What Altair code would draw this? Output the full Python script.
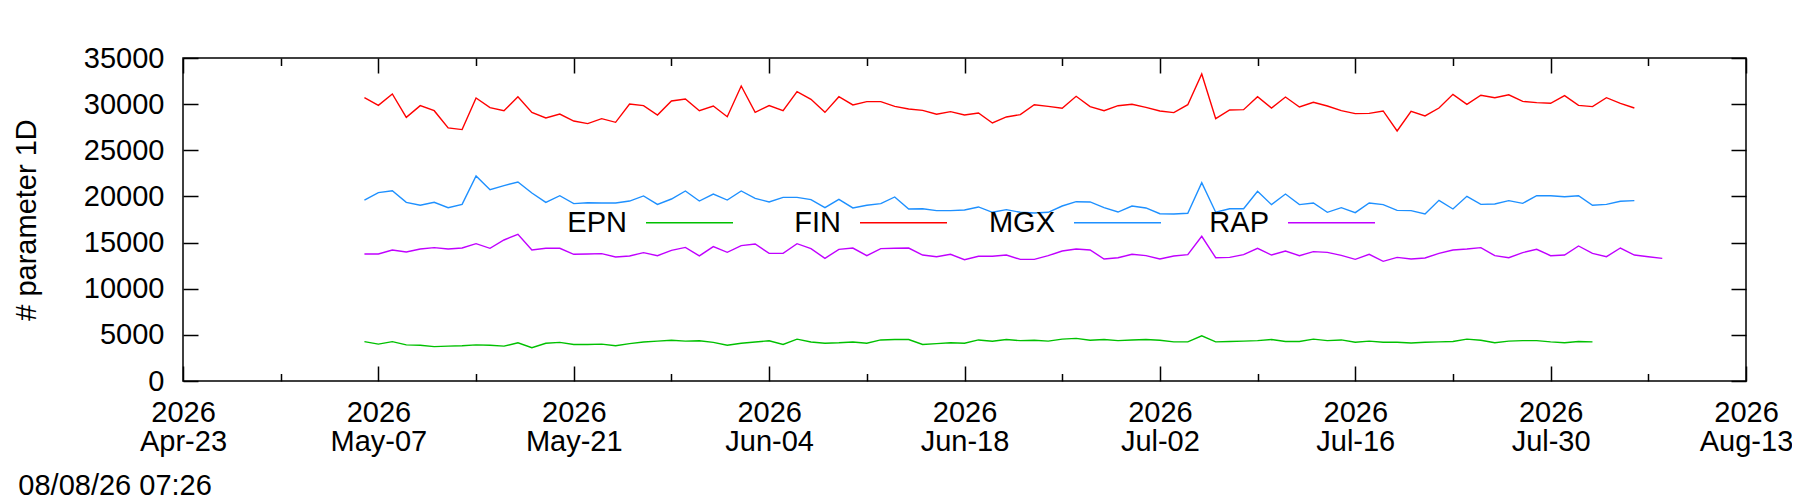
import altair as alt
import pandas as pd

# ---------------- data ----------------
start_date = "2026-05-06"
series_names = ["EPN", "FIN", "MGX", "RAP"]
series_colors = ["#00c000", "#ff0000", "#1e90ff", "#c000ff"]

epn = [4270, 4000, 4270, 3910, 3870, 3730, 3780, 3820, 3910, 3870, 3780, 4140, 3600, 4090,
       4180, 3960, 3960, 4000, 3820, 4050, 4230, 4320, 4410, 4320, 4360, 4180, 3870, 4090,
       4230, 4360, 3960, 4540, 4230, 4090, 4140, 4230, 4090, 4450, 4500, 4500, 3960, 4050,
       4140, 4090, 4450, 4300, 4490, 4370, 4410, 4320, 4540, 4620, 4410, 4490, 4370, 4450,
       4490, 4410, 4240, 4240, 4900, 4240, 4280, 4320, 4370, 4490, 4280, 4280, 4540, 4370,
       4450, 4200, 4320, 4200, 4200, 4110, 4200, 4240, 4280, 4540, 4410, 4150, 4320, 4370,
       4370, 4240, 4150, 4280, 4240]

fin = [30700, 29870, 31100, 28570, 29840, 29290, 27420, 27240, 30670, 29620, 29290, 30810,
       29110, 28500, 28930, 28170, 27890, 28430, 28030, 30020, 29840, 28820, 30340, 30560,
       29290, 29800, 28640, 31970, 29110, 29840, 29290, 31350, 30520, 29110, 30810, 29910,
       30270, 30270, 29760, 29470, 29330, 28900, 29190, 28820, 29040, 27960, 28610, 28860,
       29940, 29760, 29550, 30850, 29730, 29290, 29830, 29980, 29650, 29260, 29080, 29940,
       33270, 28430, 29370, 29400, 30810, 29580, 30770, 29690, 30200, 29800, 29290, 28970,
       29000, 29260, 27090, 29220, 28720, 29580, 31060, 29980, 30960, 30700, 31010, 30300,
       30160, 30090, 30920, 29870, 29730, 30700, 30090, 29580]

mgx = [19610, 20410, 20620, 19360, 19040, 19360, 18780, 19140, 22210, 20730, 21170, 21560,
       20370, 19360, 20080, 19220, 19320, 19290, 19290, 19500, 20050, 19140, 19720, 20590,
       19500, 20260, 19610, 20590, 19790, 19400, 19900, 19900, 19650, 18780, 19690, 18750,
       19040, 19220, 19940, 18640, 18670, 18460, 18460, 18530, 18860, 18280, 18570, 18280,
       18200, 18280, 18960, 19430, 19400, 18780, 18310, 18960, 18750, 18130, 18100, 18170,
       21490, 18280, 18670, 18670, 20550, 19110, 20260, 19110, 19290, 18280, 18780, 18240,
       19290, 19110, 18490, 18460, 18100, 19580, 18640, 20010, 19140, 19180, 19540, 19250,
       20080, 20080, 19970, 20080, 19040, 19140, 19470, 19540]

rap = [13760, 13760, 14200, 13980, 14300, 14450, 14300, 14410, 14880, 14380, 15280, 15890,
       14200, 14380, 14380, 13730, 13760, 13800, 13440, 13550, 13910, 13580, 14160, 14480,
       13550, 14560, 13940, 14670, 14850, 13830, 13830, 14880, 14340, 13290, 14270, 14410,
       13580, 14340, 14380, 14410, 13650, 13470, 13730, 13150, 13510, 13510, 13650, 13180,
       13180, 13580, 14090, 14300, 14200, 13220, 13360, 13730, 13580, 13220, 13550, 13690,
       15680, 13360, 13400, 13690, 14380, 13650, 14090, 13580, 14020, 13940, 13620, 13180,
       13730, 12970, 13400, 13220, 13330, 13830, 14200, 14300, 14450, 13580, 13360, 13910,
       14270, 13580, 13650, 14630, 13830, 13470, 14410, 13650, 13470, 13290]

x_domain = ["2026-04-23", "2026-08-13"]
x_major = ["2026-04-23", "2026-05-07", "2026-05-21", "2026-06-04", "2026-06-18",
           "2026-07-02", "2026-07-16", "2026-07-30", "2026-08-13"]
x_minor = ["2026-04-30", "2026-05-14", "2026-05-28", "2026-06-11", "2026-06-25",
           "2026-07-09", "2026-07-23", "2026-08-06"]
y_ticks = [0, 5000, 10000, 15000, 20000, 25000, 30000, 35000]
y_title = "# parameter 1D"
stamp = "08/08/26 07:26"

# ---------------- table ----------------
frames = []
for name, vals in zip(series_names, [epn, fin, mgx, rap]):
    d = pd.date_range(start_date, periods=len(vals), freq="D")
    frames.append(pd.DataFrame({"date": d.strftime("%Y-%m-%d"), "value": vals, "series": name}))
df = pd.concat(frames, ignore_index=True)


def ms(s):
    return int(pd.Timestamp(s, tz="UTC").value // 10**6)


W, H = 1563, 323
FONT = "Liberation Sans"
FS = 29
xscale = alt.Scale(type="utc", domain=[ms(v) for v in x_domain], nice=False)
yscale = alt.Scale(domain=[0, 35000], nice=False, zero=False)

base = alt.Chart(df)

lines = base.mark_line(strokeWidth=1.4).encode(
    x=alt.X("date:T", scale=xscale,
            axis=alt.Axis(values=[ms(v) for v in x_major], title=None, ticks=False, domain=False,
                          grid=False, labelPadding=17, labelFontSize=FS, labelLineHeight=29,
                          labelFlush=False, labelOverlap=False, labelBound=False, labelColor="black",
                          labelExpr="[utcFormat(datum.value, '%Y'), utcFormat(datum.value, '%b-%d')]")),
    y=alt.Y("value:Q", scale=yscale,
            axis=alt.Axis(values=y_ticks, title=y_title, ticks=False, domain=False, grid=False,
                          labelPadding=19, labelFontSize=FS, labelColor="black", format="d",
                          titleFontSize=FS, titleFontWeight="normal", titleColor="black",
                          titlePadding=42)),
    color=alt.Color("series:N",
                    scale=alt.Scale(domain=series_names, range=series_colors),
                    legend=alt.Legend(orient="none", legendX=376, legendY=120, direction="horizontal",
                                      title=None, symbolType="stroke", symbolSize=87 * 87,
                                      symbolStrokeWidth=1.4, labelFontSize=FS, labelColor="black",
                                      labelAlign="right", labelOffset={"expr": "-107"}, symbolOffset=86,
                                      columnPadding=37, padding=0, offset=0)),
)


def tick_layer(xvals, xorient, xsize, yorient=None):
    xa = alt.Axis(orient=xorient, offset=-H, values=[ms(v) for v in xvals], tickSize=xsize,
                  labels=False, domain=False, grid=False, title=None, tickColor="black", tickWidth=1.5)
    if yorient is None:
        ya = None
    else:
        ya = alt.Axis(orient=yorient, offset=-W, values=y_ticks, tickSize=15, labels=False,
                      domain=False, grid=False, title=None, tickColor="black", tickWidth=1.5)
    return base.mark_line(opacity=0).encode(
        x=alt.X("date:T", scale=xscale, axis=xa),
        y=alt.Y("value:Q", scale=yscale, axis=ya),
        detail="series:N",
    )


chart = alt.layer(
    lines,
    tick_layer(x_major, "top", 15, "right"),
    tick_layer(x_minor, "top", 7.5, "left"),
    tick_layer(x_major, "bottom", 15),
    tick_layer(x_minor, "bottom", 7.5),
).resolve_axis(x="independent", y="independent").properties(
    width=W, height=H,
    padding={"left": 175, "top": 50, "right": 46, "bottom": 121},
    autosize=alt.AutoSizeParams(type="none"),
    title=alt.TitleParams(stamp, orient="bottom", anchor="start", frame="bounds", fontSize=FS,
                          fontWeight="normal", color="black", font=FONT, offset=16, dx=6),
).configure(font=FONT).configure_view(stroke="black", strokeWidth=1.5)

chart.save("out.html", embed_options={"renderer": "svg", "actions": False})
